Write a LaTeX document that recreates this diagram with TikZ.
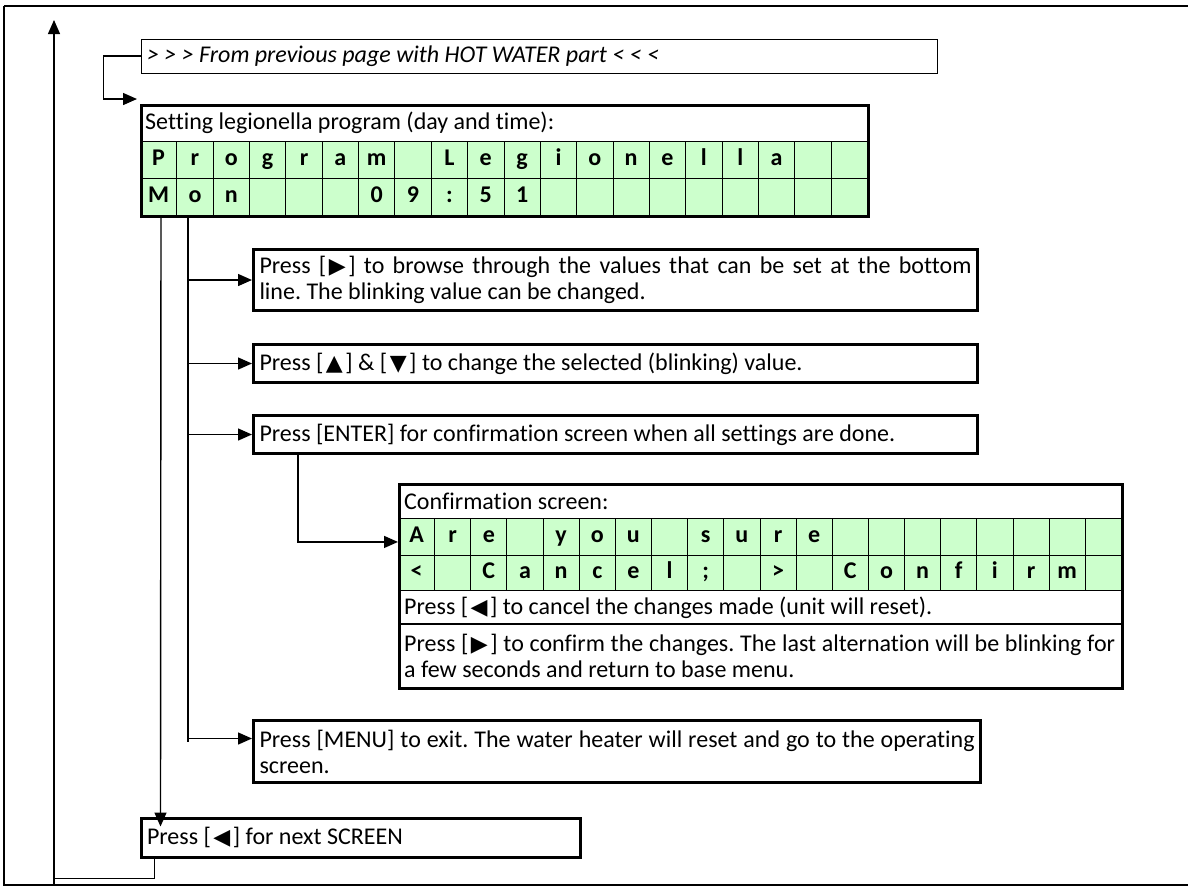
\documentclass[tikz,border=0pt]{standalone}
\usepackage{fontspec}
\setmainfont{Carlito}[Ligatures=NoCommon]
\newfontfamily\symfont{DejaVu Sans}
\usetikzlibrary{arrows.meta}
\definecolor{lcdgreen}{RGB}{204,255,204}
\newcommand{\tri}[1]{\hspace{2.5pt}{\symfont\fontsize{22}{24}\selectfont #1}\hspace{2.5pt}}
\frenchspacing
\begin{document}
\begin{tikzpicture}[x=1pt,y=-1pt,
  every node/.style={font=\fontsize{24}{26}\selectfont\frenchspacing},
  tbox/.style={draw, line width=3, anchor=north west, inner xsep=6, inner ysep=0, align=justify},
  thinbox/.style={draw, line width=1.2, anchor=north west, inner xsep=6, inner ysep=0, align=justify},
  lcdframe/.style={draw, line width=3, anchor=north west, inner sep=0},
  cell/.style={draw, line width=0.9, fill=lcdgreen, anchor=north west, inner sep=0,
    text height=16, text depth=5, font=\fontsize{24}{26}\selectfont\bfseries},
  plain/.style={anchor=west, inner sep=0},
  conn/.style={line width=1.4},
  arr/.style={conn, -{Triangle[length=14,width=12]}},
  frame/.style={line width=1.2}
]
\useasboundingbox (0,0) rectangle (1188,887);
% outer frame
\draw[frame] (1192,885) -- (4,885) -- (4,6);
\draw[line width=2.2] (4,6) -- (1192,6);

% previous page box
\node[thinbox, text width=784, minimum height=34, font=\fontsize{24}{26}\selectfont\itshape] (prev) at (140.5,38.5)
  {> > > From previous page with HOT WATER part < < <};
\coordinate (entry) at (137,99);
\draw[arr] (prev.west) -- ++(-37,0) |- (entry);

% main LCD
\foreach \c [count=\i from 0] in {P,r,o,g,r,a,m,{},L,e,g,i,o,n,e,l,l,a,{},{}} {
  \node[cell, minimum width=36.35, minimum height=37] (a\i) at ({140+36.35*\i},141) {\c};
}
\foreach \c [count=\i from 0] in {M,o,n,{},{},{},0,9,:,5,1,{},{},{},{},{},{},{},{},{}} {
  \node[cell, minimum width=36.35, minimum height=37] (b\i) at ({140+36.35*\i},178) {\c};
}
\node[plain] (lcdtitle) at (145,123) {Setting legionella program (day and time):};
\node[lcdframe, minimum width=727, minimum height=111] (lcd) at (140,104) {};

% instruction boxes
\node[tbox, text width=712, minimum height=61] (bx1) at (252,248)
  {Press [\tri{▶}] to browse through the values that can be set at the bottom\linebreak line. The blinking value can be changed.};
\node[tbox, text width=712, minimum height=38] (bx2) at (252,343)
  {Press [\tri{▲}] \& [\tri{▼}] to change the selected (blinking) value.};
\node[tbox, text width=712, minimum height=38] (bx3) at (252,414)
  {Press [ENTER] for confirmation screen when all settings are done.};
\node[tbox, text width=715, minimum height=62] (menu) at (252,719)
  {Press [MENU] to exit. The water heater will reset and go to the operating\linebreak screen.};
\node[tbox, text width=427, minimum height=39] (next) at (139.5,816.5)
  {Press [\tri{◀}] for next SCREEN};

% confirmation screen
\foreach \c [count=\i from 0] in {A,r,e,{},y,o,u,{},s,u,r,e,{},{},{},{},{},{},{},{}} {
  \node[cell, minimum width=36.15, minimum height=37] (c\i) at ({398+36.15*\i},518) {\c};
}
\foreach \c [count=\i from 0] in {<,{},C,a,n,c,e,l,;,{},>,{},C,o,n,f,i,r,m,{}} {
  \node[cell, minimum width=36.15, minimum height=35] (d\i) at ({398+36.15*\i},555) {\c};
}
\node[plain] (conftitle) at (404,501) {Confirmation screen:};
\node[plain] (cancel) at (404,607.5) {Press [\tri{◀}] to cancel the changes made (unit will reset).};
\draw[line width=1.2] (398,624) -- (1121,624);
\node[anchor=north west, inner xsep=6, inner ysep=0, text width=711, minimum height=63, align=justify] (confirm) at (398,624)
  {Press [\tri{▶}] to confirm the changes. The last alternation will be blinking for\linebreak a few seconds and return to base menu.};
\node[lcdframe, minimum width=723, minimum height=204] (conf) at (398,483) {};

% connectors
\draw[arr] ([xshift=21]lcd.south west) -- ([xshift=21]next.north west) -- ++(0,10);
\draw[conn] ([xshift=48]lcd.south west) coordinate (t0) -- ([yshift=10]t0 |- menu.west);
\draw[arr] (t0 |- bx1.west) -- (bx1.west);
\draw[arr] (t0 |- bx2.west) -- (bx2.west);
\draw[arr] (t0 |- bx3.west) -- (bx3.west);
\draw[arr] ([yshift=13]t0 |- menu.west) -- ([yshift=13]menu.west);
\draw[arr] ([xshift=46]bx3.south west) |- ([yshift=-5]conf.west |- c0.west);
\coordinate (fb) at (54,885);
\coordinate (ft) at (54,20);
\draw[arr] (fb) -- (ft);
\draw[conn] ([xshift=15]next.south west) -- ++(0,20) -| (fb);
\end{tikzpicture}
\end{document}
